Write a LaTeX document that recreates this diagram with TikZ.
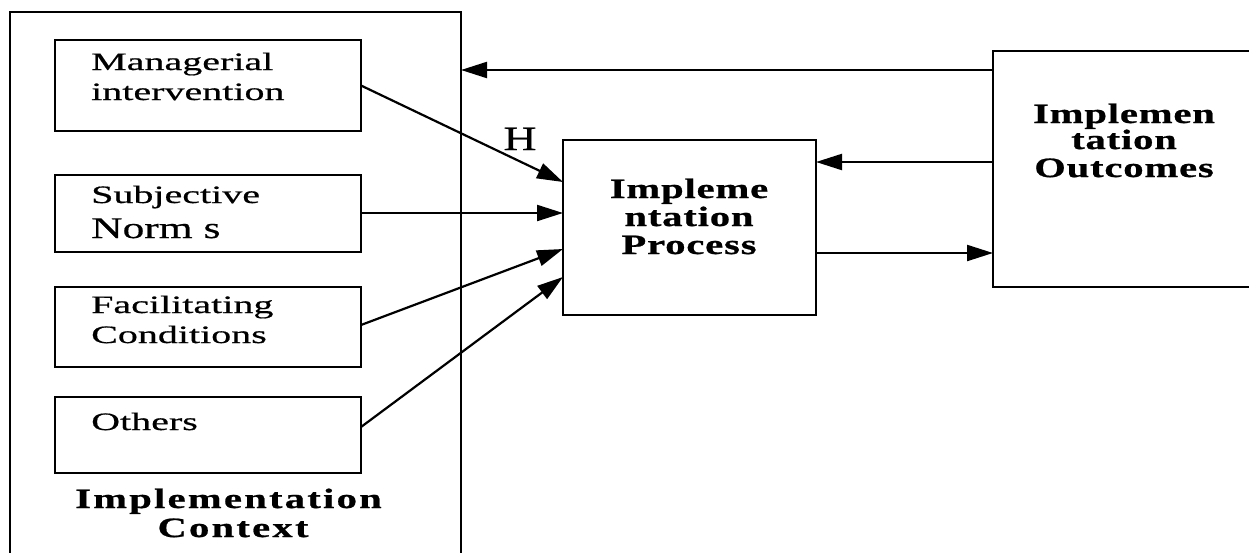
\documentclass[tikz,border=0pt]{standalone}
\usepackage{fontspec}
\usetikzlibrary{arrows.meta,calc}
\newfontfamily\smfont{Liberation Serif}[FakeStretch=1.6,FakeBold=0.6]
\newfontfamily\normfont{Liberation Serif}[FakeStretch=1.45,FakeBold=0.6]
\newfontfamily\tbfont{Liberation Serif}[FakeStretch=1.45,LetterSpace=3,FakeBold=0.8]
\newfontfamily\ctxfont{Liberation Serif}[FakeStretch=1.45,LetterSpace=8,FakeBold=0.8]
\newfontfamily\hfont{Liberation Serif}[FakeStretch=1.35,FakeBold=0.4]
\tikzset{
  box/.style={draw, line width=2.4pt, anchor=north west, inner sep=0pt, outer sep=0pt},
  sm/.style={anchor=base west, inner sep=0pt, font=\smfont\fontsize{25}{28}\selectfont},
  tb/.style={anchor=base, inner sep=0pt, font=\tbfont\bfseries\fontsize{28}{30}\selectfont},
  arr/.style={line width=2.2pt, -{Triangle[length=26pt,width=16pt]}}
}
\begin{document}
\begin{tikzpicture}[x=1pt,y=-1pt]
\useasboundingbox (0,0) rectangle (1249,552);
\clip (0,0) rectangle (1249,552);
% boxes
\node[box, minimum width=451pt, minimum height=600pt] (ctx) at (10,12) {};
\node[box, minimum width=306pt, minimum height=91pt] (man) at (55,40) {};
\node[box, minimum width=306pt, minimum height=77pt] (sub) at (55,175) {};
\node[box, minimum width=306pt, minimum height=80pt] (fac) at (55,287) {};
\node[box, minimum width=306pt, minimum height=76pt] (oth) at (55,397) {};
\node[box, minimum width=253pt, minimum height=175pt] (proc) at (563,140) {};
\node[box, minimum width=300pt, minimum height=236pt] (out) at (993,51) {};
% texts
\node[sm] (t1) at (91,70) {Managerial};
\node[sm] (t2) at (91,100) {intervention};
\node[sm] (t3) at (91,203) {Subjective};
\node[anchor=base west, inner sep=0pt, font=\normfont\fontsize{30}{32}\selectfont] (t4) at (91,238) {Norm s};
\node[sm] (t5) at (91,313) {Facilitating};
\node[sm] (t6) at (91,343) {Conditions};
\node[sm] (t7) at (91,430) {Others};
\node[anchor=base west, inner sep=0pt, font=\ctxfont\bfseries\fontsize{28}{30}\selectfont] (c1) at (75,508) {Implementation};
\node[anchor=base, inner sep=0pt, font=\ctxfont\bfseries\fontsize{28}{30}\selectfont] (c2) at (233,537) {Context};
\node[tb] (p1) at (689,198) {Impleme};
\node[tb] (p2) at (689,226) {ntation};
\node[tb] (p3) at (689,254) {Process};
\node[tb] (o1) at (1124,123) {Implemen};
\node[tb] (o2) at (1124,149) {tation};
\node[tb] (o3) at (1124,177) {Outcomes};
\node[anchor=base, inner sep=0pt, font=\hfont\fontsize{34}{36}\selectfont] (h) at (520,150) {H};
% connectors
\path (0,70) coordinate (y70) (0,162) coordinate (y162) (0,253) coordinate (y253);
\draw[arr] (out.west |- y70) -- (ctx.east |- y70);
\draw[arr] (out.west |- y162) -- (proc.east |- y162);
\draw[arr] (proc.east |- y253) -- (out.west |- y253);
\draw[arr] (man.east) -- ($(proc.north west)+(0,42)$);
\draw[arr] (sub.east |- 0,213) -- ($(proc.north west)+(0,73)$);
\draw[arr] ($(fac.east)+(0,-2)$) -- ($(proc.north west)+(0,109)$);
\draw[arr] ($(oth.east)+(0,-8)$) -- ($(proc.north west)+(0,137)$);
\end{tikzpicture}
\end{document}
